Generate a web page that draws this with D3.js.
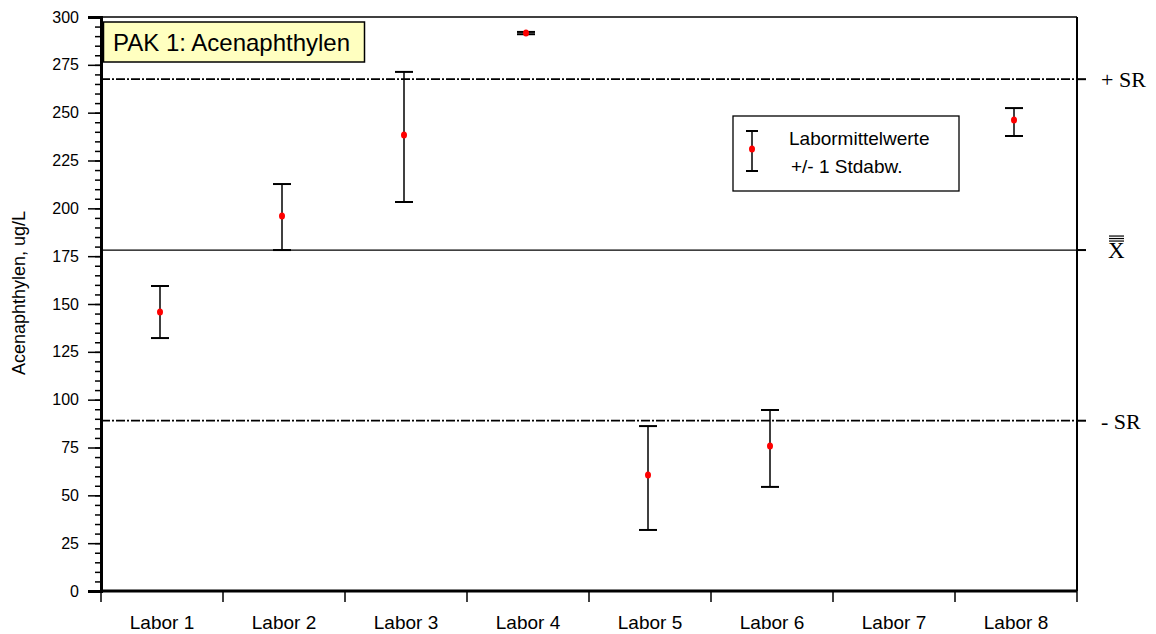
<!DOCTYPE html>
<meta charset="utf-8">
<script src="https://d3js.org/d3.v7.min.js"></script>
<style>
  body { margin: 0; background: #fff; }
  text { font-family: Arial, "Liberation Sans", sans-serif; }
</style>
<div id="my_dataviz"></div>
<script>

// data
var labs = ["Labor 1", "Labor 2", "Labor 3", "Labor 4", "Labor 5", "Labor 6", "Labor 7", "Labor 8"];
var means = [145.8, 196, 238.3, 291.6, 60.6, 75.8, null, 246.2];
var sdUp = [159.4, 212.7, 271.3, 292.2, 86.2, 94.6, null, 252.4];
var sdDown = [132.2, 178.2, 203.3, 291.0, 31.9, 54.4, null, 237.8];
var yTicks = [0, 25, 50, 75, 100, 125, 150, 175, 200, 225, 250, 275, 300];
var grandMean = 178.2;
var srPlus = 267.5;
var srMinus = 89.0;

var margin = {top: 17, right: 79, bottom: 43, left: 101},
    width = 1156 - margin.left - margin.right,
    height = 634 - margin.top - margin.bottom;

var svg = d3.select("#my_dataviz")
  .append("svg")
    .attr("width", 1156)
    .attr("height", 634)
  .append("g")
    .attr("transform", "translate(" + margin.left + "," + margin.top + ")");

var x = d3.scaleBand()
  .domain(labs)
  .range([0, width]);

var y = d3.scaleLinear()
  .domain([0, 300])
  .range([height, 0]);

// minor ticks on y
svg.append("g")
  .call(d3.axisLeft(y).tickValues(d3.range(0, 301, 5)).tickSize(6).tickFormat(""))
  .call(function(g) { g.select(".domain").remove(); })
  .selectAll("line").attr("stroke-width", 1.5);

// y axis
var yAxis = svg.append("g")
  .call(d3.axisLeft(y).tickValues(yTicks).tickSize(13).tickPadding(9));
yAxis.select(".domain").attr("stroke-width", 3);
yAxis.selectAll("line").attr("stroke-width", 1.5);
yAxis.selectAll("text").style("font-size", "16px").style("font-family", "Arial, 'Liberation Sans', sans-serif");

// x axis, ticks at band edges
var edges = labs.map(function(d) { return x(d); }).concat([width]);
svg.selectAll("xtick")
  .data(edges)
  .enter()
  .append("line")
    .attr("x1", function(d) { return d; })
    .attr("x2", function(d) { return d; })
    .attr("y1", height)
    .attr("y2", height + 11)
    .attr("stroke", "black")
    .attr("stroke-width", 1.5);
svg.append("line")
  .attr("x1", 0).attr("x2", width)
  .attr("y1", height).attr("y2", height)
  .attr("stroke", "black").attr("stroke-width", 3);
svg.selectAll("xlab")
  .data(labs)
  .enter()
  .append("text")
    .attr("x", function(d) { return x(d) + x.bandwidth() / 2; })
    .attr("y", height + 38)
    .attr("text-anchor", "middle")
    .style("font-size", "19px")
    .text(function(d) { return d; });

// frame top and right
svg.append("line")
  .attr("x1", 0).attr("x2", width).attr("y1", 0).attr("y2", 0)
  .attr("stroke", "black").attr("stroke-width", 1.5);
svg.append("line")
  .attr("x1", width).attr("x2", width).attr("y1", 0).attr("y2", height)
  .attr("stroke", "black").attr("stroke-width", 2);

// reference lines
var refs = [
  {v: srPlus, dash: "9,2,2,2", label: "+ SR"},
  {v: grandMean, dash: null, label: ""},
  {v: srMinus, dash: "9,2,2,2", label: "- SR"}
];
svg.selectAll("refline")
  .data(refs)
  .enter()
  .append("line")
    .attr("x1", 0)
    .attr("x2", width)
    .attr("y1", function(d) { return y(d.v); })
    .attr("y2", function(d) { return y(d.v); })
    .attr("stroke", "black")
    .attr("stroke-width", function(d) { return d.dash ? 1.8 : 1.3; })
    .attr("stroke-dasharray", function(d) { return d.dash; });
// ticks at right
svg.selectAll("rtick")
  .data(refs)
  .enter()
  .append("line")
    .attr("x1", width).attr("x2", width + 9)
    .attr("y1", function(d) { return y(d.v); })
    .attr("y2", function(d) { return y(d.v); })
    .attr("stroke", "black").attr("stroke-width", 2);
svg.selectAll("rlab")
  .data(refs.filter(function(d) { return d.label; }))
  .enter()
  .append("text")
    .attr("x", width + 24)
    .attr("y", function(d) { return y(d.v) + 8; })
    .style("font-family", "'Liberation Serif', 'Times New Roman', serif")
    .style("font-size", "22px")
    .text(function(d) { return d.label; });
// X double bar
var xb = svg.append("g").attr("transform", "translate(" + (width + 31) + "," + (y(grandMean) + 8) + ")");
xb.append("text")
  .attr("x", 0).attr("y", 0)
  .style("font-family", "'Liberation Serif', 'Times New Roman', serif")
  .style("font-size", "23px")
  .text("X");
[-22, -19.5, -17].forEach(function(o) {
  xb.append("line").attr("x1", 1).attr("x2", 16).attr("y1", o).attr("y2", o)
    .attr("stroke", "black").attr("stroke-width", 1.2);
});

// error bars
var pts = labs.map(function(d, i) { return {lab: d, m: means[i], hi: sdUp[i], lo: sdDown[i]}; })
  .filter(function(d) { return d.m != null; });
var cx = function(d) { return x(d.lab) + x.bandwidth() / 2 - 2; };

svg.selectAll("vline")
  .data(pts)
  .enter()
  .append("line")
    .attr("x1", cx).attr("x2", cx)
    .attr("y1", function(d) { return y(d.hi); })
    .attr("y2", function(d) { return y(d.lo); })
    .attr("stroke", "black").attr("stroke-width", 1.5);
svg.selectAll("capHi")
  .data(pts)
  .enter()
  .append("line")
    .attr("x1", function(d) { return cx(d) - 9; })
    .attr("x2", function(d) { return cx(d) + 9; })
    .attr("y1", function(d) { return y(d.hi); })
    .attr("y2", function(d) { return y(d.hi); })
    .attr("stroke", "black").attr("stroke-width", 2);
svg.selectAll("capLo")
  .data(pts)
  .enter()
  .append("line")
    .attr("x1", function(d) { return cx(d) - 9; })
    .attr("x2", function(d) { return cx(d) + 9; })
    .attr("y1", function(d) { return y(d.lo); })
    .attr("y2", function(d) { return y(d.lo); })
    .attr("stroke", "black").attr("stroke-width", 2);
svg.selectAll("dot")
  .data(pts)
  .enter()
  .append("ellipse")
    .attr("cx", cx)
    .attr("cy", function(d) { return y(d.m); })
    .attr("rx", 3)
    .attr("ry", 3.5)
    .style("fill", "#ff0000");

// title box
svg.append("rect")
  .attr("x", 2.5).attr("y", 5).attr("width", 261).attr("height", 40)
  .attr("fill", "#ffffc0").attr("stroke", "black").attr("stroke-width", 1.5);
svg.append("text")
  .attr("x", 12).attr("y", 34)
  .style("font-size", "24px")
  .text("PAK 1: Acenaphthylen");

// legend
svg.append("rect")
  .attr("x", 632).attr("y", 99).attr("width", 226).attr("height", 75)
  .attr("fill", "white").attr("stroke", "black").attr("stroke-width", 1.3);
svg.append("line").attr("x1", 651).attr("x2", 651).attr("y1", 114).attr("y2", 154)
  .attr("stroke", "black").attr("stroke-width", 1.5);
svg.append("line").attr("x1", 645).attr("x2", 657).attr("y1", 114).attr("y2", 114)
  .attr("stroke", "black").attr("stroke-width", 2);
svg.append("line").attr("x1", 645).attr("x2", 657).attr("y1", 154).attr("y2", 154)
  .attr("stroke", "black").attr("stroke-width", 2);
svg.append("ellipse").attr("cx", 651).attr("cy", 132).attr("rx", 3).attr("ry", 3.5).style("fill", "#ff0000");
svg.append("text").attr("x", 688).attr("y", 128).style("font-size", "19px").text("Labormittelwerte");
svg.append("text").attr("x", 690).attr("y", 156).style("font-size", "19px").text("+/- 1 Stdabw.");

// y label
svg.append("text")
  .attr("transform", "rotate(-90)")
  .attr("x", -(293 - margin.top))
  .attr("y", -76)
  .attr("text-anchor", "middle")
  .style("font-size", "18px")
  .text("Acenaphthylen, ug/L");

</script>
